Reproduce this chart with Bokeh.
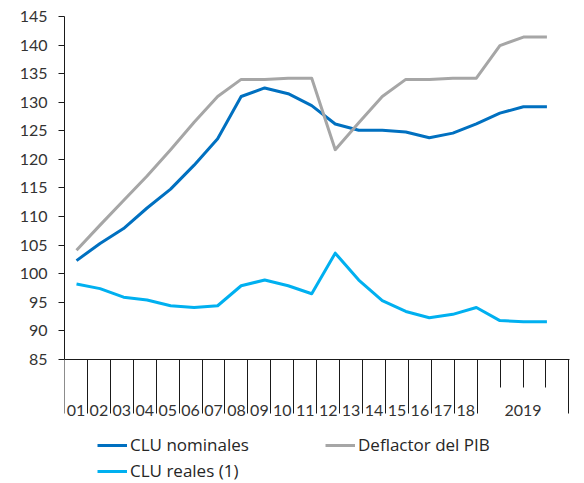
from bokeh.plotting import figure
from bokeh.models import Range1d, LinearAxis, FixedTicker, Legend, LegendItem, ColumnDataSource
from bokeh.core.properties import value
from bokeh.embed import file_html
from bokeh.resources import INLINE

# ---- data ----
periods = ["2001", "2002", "2003", "2004", "2005", "2006", "2007", "2008", "2009",
           "2010", "2011", "2012", "2013", "2014", "2015", "2016", "2017", "2018",
           "2019-I", "2019-II", "2019-III"]
clu_nominales = [102.3, 105.3, 107.9, 111.5, 114.8, 119.0, 123.6, 131.0, 132.5, 131.5,
                 129.4, 126.2, 125.1, 125.1, 124.8, 123.8, 124.6, 126.2, 128.1, 129.2, 129.2]
deflactor_pib = [104.1, 108.5, 112.8, 117.1, 121.7, 126.5, 131.0, 134.0, 134.0, 134.2,
                 134.2, 121.7, 126.4, 131.0, 134.0, 134.0, 134.2, 134.2, 139.9, 141.4, 141.4]
clu_reales = [98.2, 97.4, 95.9, 95.4, 94.4, 94.1, 94.4, 97.9, 98.9, 97.9,
              96.5, 103.6, 98.9, 95.3, 93.4, 92.3, 92.9, 94.1, 91.8, 91.6, 91.6]

x_labels = ["01", "02", "03", "04", "05", "06", "07", "08", "09", "10", "11", "12",
            "13", "14", "15", "16", "17", "18", "2019"]
x_label_slots = [1] * 18 + [4]
y_ticks = [85, 90, 95, 100, 105, 110, 115, 120, 125, 130, 135, 140, 145]

# ---- derived axis structure ----
edges = [0]
for s in x_label_slots:
    edges.append(edges[-1] + s)
centers = [(edges[i] + edges[i + 1]) / 2 for i in range(len(x_labels))]
minor_edges = [edges[-2] + k for k in range(1, x_label_slots[-1])]

AX = "#1a1a1a"
TXT = "#333333"
TICK_FONT = "Lato"
Y_MIN, Y_MAX = y_ticks[0], y_ticks[-1]
FLOOR = 63.48          # frame extends below the value axis to hold the category band + legend
LABEL_Y = 76.1         # vertical placement of the category labels inside that band
X_PAD = 0.2            # a little room right of the last slot edge

p = figure(width=581, height=482, x_range=Range1d(0, edges[-1] + X_PAD),
           y_range=Range1d(FLOOR, Y_MAX),
           x_axis_type=None, y_axis_type=None, output_backend="svg", toolbar_location=None,
           min_border_left=64, min_border_right=8, min_border_top=16, min_border_bottom=0)
p.outline_line_color = None
p.background_fill_color = "white"
p.border_fill_color = "white"
p.extra_x_ranges = {"lines": Range1d(-0.511, 21.13)}

# y axis (only spans 85..145)
yax = LinearAxis(ticker=FixedTicker(ticks=y_ticks, minor_ticks=[]), bounds=(Y_MIN, Y_MAX),
                 major_tick_out=6, major_tick_in=0, minor_tick_out=0, minor_tick_in=0,
                 axis_line_color=AX, major_tick_line_color=AX, axis_line_width=1,
                 major_label_text_font=TICK_FONT, major_label_text_font_size="16px",
                 major_label_text_color=TXT, major_label_standoff=11)
p.add_layout(yax, "left")

# category axis line with long ticks at slot edges and short ticks inside 2019
tick_ax = LinearAxis(ticker=FixedTicker(ticks=edges, minor_ticks=minor_edges),
                     fixed_location=Y_MIN, bounds=(edges[0], edges[-1] + 0.01),
                     major_tick_in=54, major_tick_out=0, minor_tick_in=28, minor_tick_out=0,
                     axis_line_color=AX, major_tick_line_color=AX, minor_tick_line_color=AX,
                     major_label_text_font_size="0px", major_label_standoff=0)
p.add_layout(tick_ax, "above")

# category labels
lab_src = ColumnDataSource(dict(x=centers, y=[LABEL_Y] * len(centers), text=x_labels))
p.text(x="x", y="y", text="text", source=lab_src, text_align="center", text_baseline="middle",
       text_font=value(TICK_FONT), text_font_size="16px", text_color=TXT)

idx = list(range(len(periods)))
r1 = p.line(idx, clu_nominales, x_range_name="lines", line_color="#0070C0", line_width=3,
            line_join="round")
r3 = p.line(idx, clu_reales, x_range_name="lines", line_color="#00B0F0", line_width=3,
            line_join="round")
r2 = p.line(idx, deflactor_pib, x_range_name="lines", line_color="#A6A6A6", line_width=3,
            line_join="round")

legend = Legend(items=[LegendItem(label="CLU nominales", renderers=[r1]),
                       LegendItem(label="Deflactor del PIB", renderers=[r2]),
                       LegendItem(label="CLU reales (1)", renderers=[r3])],
                orientation="horizontal", ncols=2, location=(33, 0),
                glyph_width=30, glyph_height=18, label_height=18, label_width=192,
                label_standoff=3, spacing=3, padding=0, margin=0,
                border_line_color=None, background_fill_alpha=0,
                label_text_font="Open Sans", label_text_font_size="17px",
                label_text_color="#262626")
p.add_layout(legend, "center")

open("out.html", "w").write(file_html(p, INLINE))
